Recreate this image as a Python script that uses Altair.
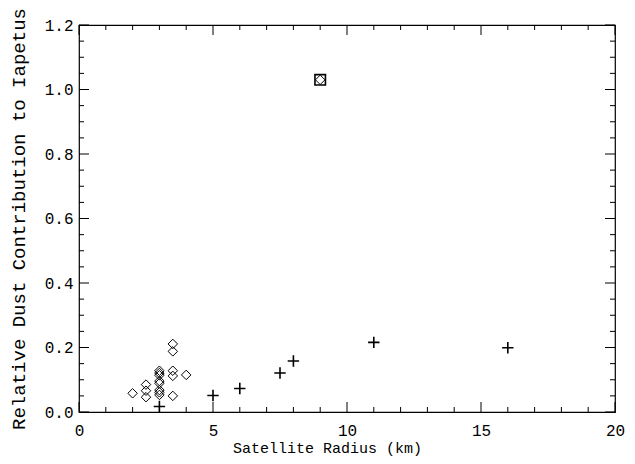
import altair as alt
import pandas as pd

# Diamonds (open symbols)
dia_x = [2, 2.5, 2.5, 2.5, 3, 3, 3, 3, 3, 3, 3, 3, 3.5, 3.5, 3.5, 3.5, 3.5, 4, 9]
dia_y = [0.058, 0.085, 0.066, 0.046, 0.128, 0.121, 0.114, 0.096, 0.089, 0.068, 0.061, 0.053,
         0.211, 0.188, 0.128, 0.112, 0.050, 0.115, 1.03]
# Plus symbols
plus_x = [3, 5, 6, 7.5, 8, 11, 16]
plus_y = [0.017, 0.051, 0.073, 0.121, 0.158, 0.216, 0.199]
# Square symbol
sq_x = [9]
sq_y = [1.03]

x_major = [0, 5, 10, 15, 20]
x_minor = [v for v in range(0, 21) if v % 5 != 0]
y_major = [0.0, 0.2, 0.4, 0.6, 0.8, 1.0, 1.2]
y_minor = [round(0.05 * i, 2) for i in range(25) if i % 4 != 0]

W, H = 536, 387
FONT = "Liberation Mono"
MAJ, MIN = 10, 5

xs = alt.Scale(domain=[0, 20], nice=False, zero=False)
ys = alt.Scale(domain=[0, 1.2], nice=False, zero=False)

xaxis = alt.Axis(values=x_major, format="d", ticks=False, domain=False, grid=False,
                 labelPadding=10, labelFlush=False, labelFont=FONT, labelFontSize=16,
                 labelColor="black",
                 title="Satellite Radius (km)", titleFont=FONT, titleFontSize=15,
                 titleFontWeight="normal", titleColor="black",
                 titleX=248, titleY=40, titleBaseline="alphabetic", titleAlign="center")
yaxis = alt.Axis(values=y_major, format=".1f", ticks=False, domain=False, grid=False,
                 labelPadding=6, labelFlush=False, labelFont=FONT, labelFontSize=16,
                 labelColor="black",
                 title="Relative Dust Contribution to Iapetus", titleFont=FONT, titleFontSize=19,
                 titleFontWeight="normal", titleColor="black",
                 titleX=-61, titleY=H / 2, titleBaseline="middle", titleAlign="center",
                 titleAngle=270)

dia_df = pd.DataFrame({"x": dia_x, "y": dia_y})
plus_df = pd.DataFrame({"x": plus_x, "y": plus_y})
sq_df = pd.DataFrame({"x": sq_x, "y": sq_y})

base_pts = alt.Chart(dia_df).mark_point(shape="diamond", filled=False, color="black",
                                         strokeWidth=1, size=90, opacity=1).encode(
    x=alt.X("x:Q", scale=xs, axis=xaxis),
    y=alt.Y("y:Q", scale=ys, axis=yaxis),
)
plus_pts = alt.Chart(plus_df).mark_point(shape="M-1,0L1,0M0,-1L0,1", filled=False, color="black",
                                          strokeWidth=1.6, size=130, opacity=1).encode(
    x=alt.X("x:Q", scale=xs), y=alt.Y("y:Q", scale=ys))
sq_pts = alt.Chart(sq_df).mark_point(shape="square", filled=False, color="black",
                                      strokeWidth=1.6, size=110, opacity=1).encode(
    x=alt.X("x:Q", scale=xs), y=alt.Y("y:Q", scale=ys))


def xticks(vals, y0, y1):
    return alt.Chart(pd.DataFrame({"t": vals})).mark_rule(color="black", strokeWidth=1).encode(
        x=alt.X("t:Q", scale=xs), y=alt.value(y0), y2=alt.value(y1))


def yticks(vals, x0, x1):
    return alt.Chart(pd.DataFrame({"t": vals})).mark_rule(color="black", strokeWidth=1).encode(
        y=alt.Y("t:Q", scale=ys), x=alt.value(x0), x2=alt.value(x1))


ticks = [
    xticks(x_major, H, H - MAJ), xticks(x_minor, H, H - MIN),
    xticks(x_major, 0, MAJ), xticks(x_minor, 0, MIN),
    yticks(y_major, 0, MAJ), yticks(y_minor, 0, MIN),
    yticks(y_major, W, W - MAJ), yticks(y_minor, W, W - MIN),
]

chart = alt.layer(base_pts, plus_pts, sq_pts, *ticks).properties(
    width=W, height=H,
    autosize=alt.AutoSizeParams(type="none"),
    padding={"left": 71, "top": 17, "right": 12, "bottom": 44},
    background="white",
).configure_view(stroke="black", strokeWidth=1.2)

chart.save("out.html", embed_options={"renderer": "svg", "actions": False})
